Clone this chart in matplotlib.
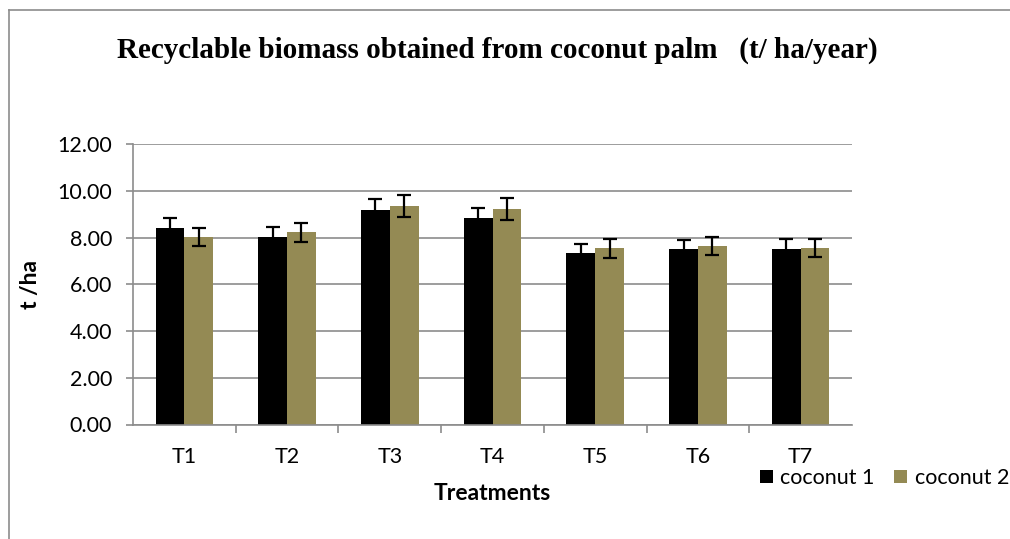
import numpy as np
import matplotlib.pyplot as plt
from matplotlib.lines import Line2D

treatments = ['T1', 'T2', 'T3', 'T4', 'T5', 'T6', 'T7']
coconut1 = [8.39, 8.04, 9.19, 8.82, 7.32, 7.50, 7.52]
coconut1_err = [0.44, 0.43, 0.47, 0.44, 0.40, 0.40, 0.41]
coconut2 = [8.02, 8.22, 9.35, 9.22, 7.53, 7.65, 7.55]
coconut2_err = [0.40, 0.41, 0.47, 0.47, 0.39, 0.39, 0.38]

plt.rcParams['font.family'] = ['Lato', 'DejaVu Sans']

W, H = 1010, 539
fig = plt.figure(figsize=(W / 100, H / 100), dpi=100)
# outer chart border, only left and top edges are visible
fig.lines.append(Line2D([9 / W, 9 / W], [0, 1 - 10 / H], transform=fig.transFigure,
                        color='#8c8c8c', linewidth=1.2))
fig.lines.append(Line2D([9 / W, 1], [1 - 10 / H, 1 - 10 / H], transform=fig.transFigure,
                        color='#8c8c8c', linewidth=1.2))

ax = fig.add_axes([133 / W, 1 - 424.5 / H, (852 - 133) / W, (424.5 - 144) / H])

x = np.arange(len(treatments))
w = 0.28
ekw = dict(elinewidth=1.6, capthick=1.6, ecolor='black')
ax.bar(x - w / 2, coconut1, w, color='black', label='coconut 1', zorder=2,
       yerr=coconut1_err, capsize=5, error_kw=ekw)
ax.bar(x + w / 2, coconut2, w, color='#948A54', label='coconut 2', zorder=2,
       yerr=coconut2_err, capsize=5, error_kw=ekw)

ax.set_xlim(-0.5, len(treatments) - 0.5)
ax.set_ylim(0, 12)
ax.set_yticks(np.arange(0, 12.1, 2))
ax.set_yticklabels(['%.2f' % v for v in np.arange(0, 12.1, 2)], fontsize=15.5)
ax.set_xticks(x)
ax.set_xticklabels(treatments, fontsize=15.5)
ax.set_xticks(np.arange(0.5, len(treatments) - 0.5, 1), minor=True)
ax.tick_params(axis='x', which='major', length=0, pad=16)
ax.tick_params(axis='x', which='minor', length=6, color='#8c8c8c', width=1.2)
ax.tick_params(axis='y', length=5, color='#8c8c8c', width=1.2, pad=10)

ax.grid(axis='y', color='#8c8c8c', linewidth=1.2, zorder=0)
ax.set_axisbelow(True)
ax.spines['top'].set_visible(False)
ax.spines['right'].set_visible(False)
for s in ['left', 'bottom']:
    ax.spines[s].set_color('#8c8c8c')
    ax.spines[s].set_linewidth(1.2)

ax.set_ylabel('t /ha', fontsize=16.5, fontweight='bold', labelpad=12)
ax.set_xlabel('Treatments', fontsize=16.5, fontweight='bold', labelpad=12)

fig.text(497 / W, 1 - 50 / H, 'Recyclable biomass obtained from coconut palm   (t/ ha/year)',
         ha='center', va='center', fontsize=21, fontweight='bold',
         family=['Liberation Serif', 'DejaVu Serif'])

fig.legend(loc='center left', bbox_to_anchor=(760 / W, 1 - 478 / H), ncol=2,
           frameon=False, fontsize=15.5, handlelength=0.6, handleheight=0.6,
           handletextpad=0.35, columnspacing=0.9, borderaxespad=0, borderpad=0)

fig.savefig('out.png', dpi=100)
